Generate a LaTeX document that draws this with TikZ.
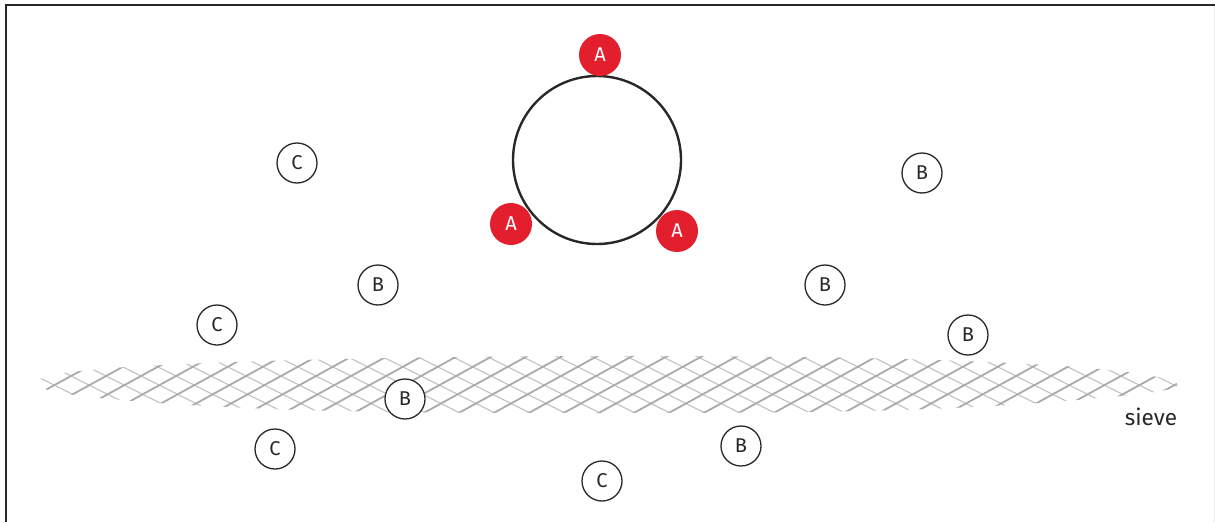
\documentclass[tikz,border=0pt]{standalone}
\usepackage{fontspec}
\setmainfont{Fira Sans}
\definecolor{ared}{RGB}{227,30,45}
\definecolor{ink}{RGB}{40,40,40}
\definecolor{meshdark}{RGB}{170,170,170}
\definecolor{meshlight}{RGB}{198,198,198}
\tikzset{
  ball/.style={circle, draw=ink, line width=1.3pt, fill=white, minimum size=40pt, inner sep=0pt, text=ink, font=\fontsize{20}{20}\selectfont},
  aball/.style={circle, fill=ared, minimum size=42pt, inner sep=0pt, text=white, font=\fontsize{20}{20}\selectfont},
  wheel/.style={circle, draw=ink, line width=2.4pt, minimum size=168pt, inner sep=0pt},
  frameline/.style={draw=ink, line width=2.5pt},
  meshup/.style={draw=meshdark, line width=1.8pt},
  meshdown/.style={draw=meshlight, line width=1.3pt},
}
\begin{document}
\begin{tikzpicture}[x=1pt,y=-1pt]
\useasboundingbox (0,0) rectangle (1215,522);
% frame
\coordinate (tl) at (6,5);
\coordinate (tr) at (1215,5);
\coordinate (bl) at (6,522);
\coordinate (rt) at (1214,6);
\coordinate (rb) at (1214,522);
\draw[frameline] (bl) -- (tl) -- (tr);
\draw[draw=black!8, line width=1pt] (rt) -- (rb);
% sieve mesh
\begin{scope}
\clip plot[smooth cycle, tension=0.6] coordinates {(35,383) (100,369) (300,360) (600,356) (900,359) (1100,369) (1178,385) (1100,398) (900,410) (600,413) (300,410) (100,398)};
\foreach \x in {-160,-125,...,1220} {
  \draw[meshdown] (\x,348) -- ++(160,80);
}
\foreach \x in {-160,-125,...,1220} {
  \draw[meshup] (\x,426) -- ++(142,-78);
}
\end{scope}
\node[text=ink, font=\fontsize{22.5}{22.5}\selectfont, anchor=base] (sieve) at (1151,425) {sieve};
% wheel and A's
\node[wheel] (w) at (597,160) {};
\node[aball] (a1) at (600,55) {A};
\node[aball] (a2) at (511,224) {A};
\node[aball] (a3) at (677,231) {A};
% C's
\node[ball] (c1) at (297,163) {C};
\node[ball] (c2) at (217,325) {C};
\node[ball] (c3) at (275,449) {C};
\node[ball] (c4) at (602,481) {C};
% B's
\node[ball] (b1) at (378,285) {B};
\node[ball] (b2) at (922,173) {B};
\node[ball] (b3) at (825,285) {B};
\node[ball] (b4) at (968,335) {B};
\node[ball] (b5) at (405,399) {B};
\node[ball] (b6) at (741,446) {B};
\end{tikzpicture}
\end{document}
